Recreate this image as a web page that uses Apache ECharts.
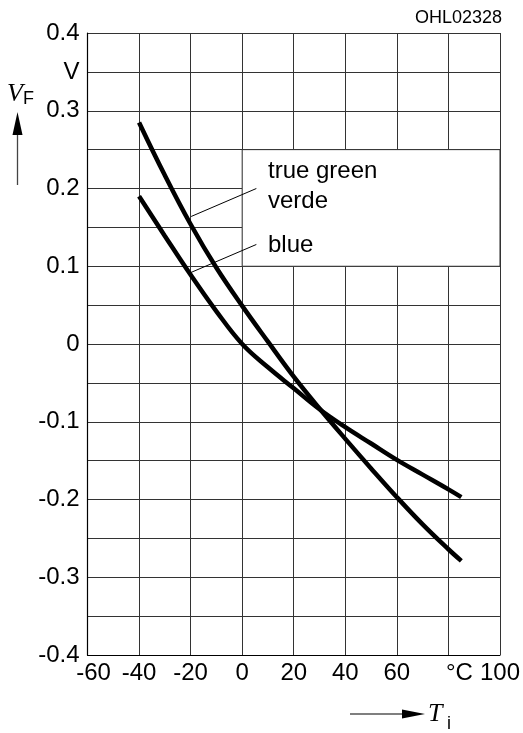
<!DOCTYPE html>
<html>
<head>
<meta charset="utf-8">
<script src="https://cdn.jsdelivr.net/npm/echarts@6/dist/echarts.min.js"></script>
<style>
html,body{margin:0;padding:0;background:#fff;}
#c{width:523px;height:733px;}
</style>
</head>
<body>
<div id="c"></div>
<script>
// ---- data ----
const temps = [-40, -30, -20, -10, 0, 10, 20, 30, 40, 50, 60, 70, 80, 85];
const trueGreenVerde = [0.285, 0.217, 0.154, 0.098, 0.049, 0.003, -0.042, -0.083, -0.122, -0.160, -0.197, -0.232, -0.264, -0.279];
const blue = [0.19, 0.139, 0.089, 0.042, 0.0, -0.030, -0.057, -0.084, -0.107, -0.128, -0.149, -0.168, -0.187, -0.197];
const xTickLabels = ['-60', '-40', '-20', '0', '20', '40', '60', '°C', '100'];
const yTickLabels = {'-40':'-0.4','-30':'-0.3','-20':'-0.2','-10':'-0.1','0':'0','10':'0.1','20':'0.2','30':'0.3','35':'V','40':'0.4'};
// annotation leader lines (data space): [from, to]
const greenLeader = [[5.5, 0.2], [-19.8, 0.164]];
const blueLeader = [[5.5, 0.128], [-20.2, 0.0915]];
const labelBox = [[0, 0.25], [100, 0.1]];

const FONT = "'Liberation Sans', Arial, Helvetica, sans-serif";
const SERIF = "'Liberation Serif', 'Times New Roman', serif";
const GRID = '#333';

const chart = echarts.init(document.getElementById('c'), null, {renderer: 'canvas'});
const toPairs = (xs, ys) => xs.map((x, i) => [x, ys[i]]);

chart.setOption({
  animation: false,
  backgroundColor: '#fff',
  grid: {left: 87.5, right: 21, top: 33, bottom: 78, containLabel: false},
  xAxis: {
    type: 'value', min: -60, max: 100, interval: 20,
    axisLine: {show: true, onZero: false, lineStyle: {color: '#000', width: 1.2}},
    axisTick: {show: false},
    splitLine: {show: true, lineStyle: {color: GRID, width: 1}},
    axisLabel: {
      color: '#000', fontFamily: FONT, fontSize: 24, margin: 6,
      formatter: function (v) {
        const t = xTickLabels[Math.round((v + 60) / 20)];
        if (t === '-60') return '{a|' + t + '}';
        if (t === '°C') return '{b|' + t + '}';
        return t;
      },
      rich: {
        a: {fontFamily: FONT, fontSize: 24, color: '#000', padding: [0, 0, 0, 12]},
        b: {fontFamily: FONT, fontSize: 24, color: '#000', padding: [0, 0, 0, 22]}
      }
    }
  },
  yAxis: {
    type: 'value', min: -0.4, max: 0.4, interval: 0.05,
    axisLine: {show: true, onZero: false, lineStyle: {color: '#000', width: 1.2}},
    axisTick: {show: false},
    splitLine: {show: true, lineStyle: {color: GRID, width: 1}},
    axisLabel: {
      color: '#000', fontFamily: FONT, fontSize: 24, margin: 8,
      formatter: function (v) {
        const k = String(Math.round(v * 100));
        return yTickLabels[k] !== undefined ? yTickLabels[k] : '';
      }
    }
  },
  series: [
    {
      type: 'line', data: [], z: 1, silent: true,
      markArea: {
        silent: true,
        itemStyle: {color: '#fff', opacity: 1, borderColor: GRID, borderWidth: 1},
        data: [[{coord: labelBox[0]}, {coord: labelBox[1]}]]
      }
    },
    {
      name: 'true green / verde', type: 'line', z: 3,
      data: toPairs(temps, trueGreenVerde), smooth: 0.4, showSymbol: false,
      lineStyle: {color: '#000', width: 4.5, cap: 'butt'},
      markLine: {
        silent: true, symbol: ['none', 'none'], label: {show: false},
        lineStyle: {color: '#000', width: 1, type: 'solid'},
        data: [[{coord: greenLeader[0]}, {coord: greenLeader[1]}]]
      }
    },
    {
      name: 'blue', type: 'line', z: 3,
      data: toPairs(temps, blue), smooth: 0.4, showSymbol: false,
      lineStyle: {color: '#000', width: 4.5, cap: 'butt'},
      markLine: {
        silent: true, symbol: ['none', 'none'], label: {show: false},
        lineStyle: {color: '#000', width: 1, type: 'solid'},
        data: [[{coord: blueLeader[0]}, {coord: blueLeader[1]}]]
      }
    }
  ],
  graphic: [
    {type: 'text', right: 21, top: 9, z: 10,
      style: {text: 'OHL02328', font: '18px ' + FONT, fill: '#000'}},
    // curve labels
    {type: 'text', x: 268, y: 171, z: 10,
      style: {text: 'true green', font: '24px ' + FONT, fill: '#000', textVerticalAlign: 'middle'}},
    {type: 'text', x: 268, y: 201, z: 10,
      style: {text: 'verde', font: '24px ' + FONT, fill: '#000', textVerticalAlign: 'middle'}},
    {type: 'text', x: 268, y: 245, z: 10,
      style: {text: 'blue', font: '24px ' + FONT, fill: '#000', textVerticalAlign: 'middle'}},
    // Y axis name V_F with arrow
    {type: 'text', x: 7, y: 94, z: 10,
      style: {text: 'V', font: 'italic 26px ' + SERIF, fill: '#000', textVerticalAlign: 'middle'}},
    {type: 'text', x: 23, y: 99, z: 10,
      style: {text: 'F', font: '18px ' + FONT, fill: '#000', textVerticalAlign: 'middle'}},
    {type: 'line', z: 10, shape: {x1: 17.5, y1: 133, x2: 17.5, y2: 185},
      style: {stroke: '#444', lineWidth: 1.3}},
    {type: 'polygon', z: 10, shape: {points: [[17.5, 112], [12.5, 135], [22.5, 135]]},
      style: {fill: '#000'}},
    // X axis name T_i with arrow
    {type: 'line', z: 10, shape: {x1: 350, y1: 714, x2: 404, y2: 714},
      style: {stroke: '#000', lineWidth: 1.2}},
    {type: 'polygon', z: 10, shape: {points: [[425, 714], [402, 709.5], [402, 718.5]]},
      style: {fill: '#000'}},
    {type: 'text', x: 428, y: 714, z: 10,
      style: {text: 'T', font: 'italic 26px ' + SERIF, fill: '#000', textVerticalAlign: 'middle'}},
    {type: 'text', x: 447, y: 724, z: 10,
      style: {text: 'i', font: '18px ' + FONT, fill: '#000', textVerticalAlign: 'middle'}}
  ]
});
</script>
</body>
</html>
